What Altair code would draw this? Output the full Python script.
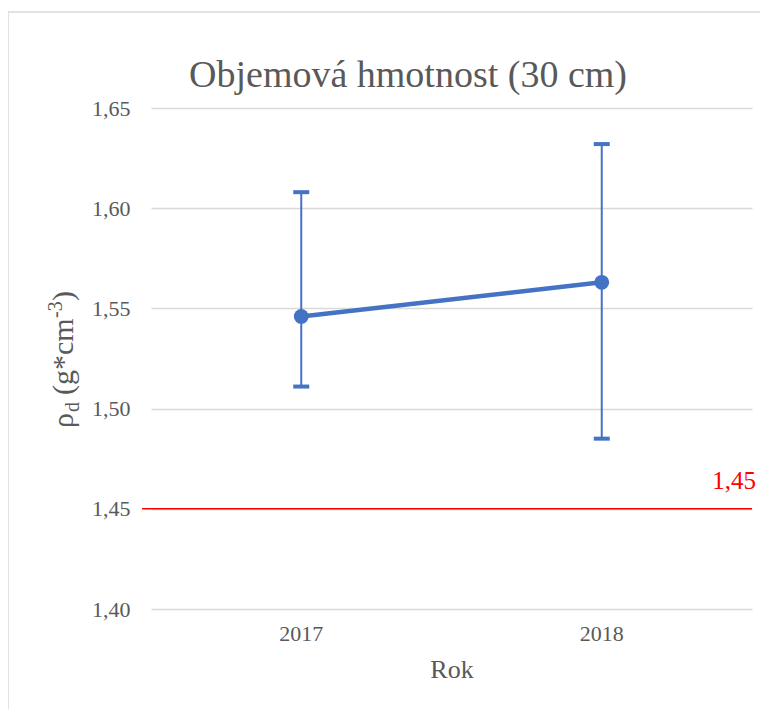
import altair as alt
import pandas as pd

years = ["2017", "2018"]
means = [1.546, 1.563]
lows = [1.511, 1.485]
highs = [1.608, 1.632]
ref_value = 1.45
y_ticks = [1.40, 1.45, 1.50, 1.55, 1.60, 1.65]
title_text = "Objemová hmotnost (30 cm)"

df = pd.DataFrame({"Rok": years, "mean": means, "lo": lows, "hi": highs})
ref_df = pd.DataFrame({"v": [ref_value], "label": ["1,45"]})
one = pd.DataFrame({"a": [0]})

W, H = 601, 501
FONT = "'Liberation Serif', 'Times New Roman', serif"
TXT = "#595959"
BLUE = "#4472C4"

x_enc = alt.X("Rok:N", scale=alt.Scale(paddingInner=0, paddingOuter=0),
              axis=alt.Axis(title="Rok", labelAngle=0, ticks=False, domain=False,
                            labelFontSize=22, titleFontSize=26, labelFont=FONT,
                            titleFont=FONT, labelColor=TXT, titleColor=TXT,
                            titleFontWeight="normal", labelPadding=14, titlePadding=12,
                            grid=False))
y_scale = alt.Scale(domain=[1.40, 1.65], nice=False, zero=False)
y_axis = alt.Axis(title=None, values=y_ticks, ticks=False, domain=False,
                  labelExpr="replace(format(datum.value, '.2f'), '.', ',')",
                  labelFontSize=22, labelFont=FONT, labelColor=TXT, labelPadding=21,
                  grid=True, gridColor="#d9d9d9", gridWidth=1.5)

base = alt.Chart(df)

border = alt.Chart(one).mark_rect(fill=None, stroke="#d9d9d9", strokeWidth=1.5).encode(
    x=alt.value(-143), y=alt.value(-96), x2=alt.value(W + 100), y2=alt.value(H + 200))

bars = base.mark_rule(color=BLUE, strokeWidth=2).encode(
    x=x_enc, y=alt.Y("lo:Q", scale=y_scale, axis=y_axis), y2="hi:Q")
cap_lo = base.mark_tick(color=BLUE, size=16, thickness=4, opacity=1).encode(x="Rok:N", y="lo:Q")
cap_hi = base.mark_tick(color=BLUE, size=16, thickness=4, opacity=1).encode(x="Rok:N", y="hi:Q")
line = base.mark_line(color=BLUE, strokeWidth=4.5).encode(x="Rok:N", y="mean:Q")
pts = base.mark_circle(color=BLUE, size=220, opacity=1).encode(x="Rok:N", y="mean:Q")

ref_rule = alt.Chart(ref_df).mark_rule(color="red", strokeWidth=1.5).encode(
    y="v:Q", x=alt.value(-9), x2=alt.value(W))
ref_text = alt.Chart(ref_df).mark_text(color="red", fontSize=25, font=FONT, align="right",
                                       baseline="alphabetic", dy=-20).encode(
    y="v:Q", x=alt.value(W + 4), text="label:N")

title = alt.Chart(one).mark_text(text=title_text, fontSize=38, font=FONT, color=TXT,
                                 align="center", baseline="alphabetic").encode(
    x=alt.value(257), y=alt.value(-21))

# rotated y-axis title with sub/superscripts
pieces = [
    ("ρ", 30, -78, 320),
    ("d", 20, -72, 304),
    ("(g*cm", 30, -78, 287),
    ("-3", 20, -89, 210),
    (")", 30, -78, 193),
]
ytitle = []
for t, fs, xx, yy in pieces:
    ytitle.append(alt.Chart(one).mark_text(text=t, fontSize=fs, font=FONT, color=TXT,
                                           angle=270, align="left", baseline="alphabetic").encode(
        x=alt.value(xx), y=alt.value(yy)))

chart = alt.layer(border, bars, cap_lo, cap_hi, line, pts, ref_rule, ref_text, title, *ytitle).properties(
    width=W, height=H,
    autosize=alt.AutoSizeParams(type="none"),
    padding={"left": 143, "top": 100, "right": 8, "bottom": 100},
).configure_view(stroke=None)

chart.save("out.html", embed_options={"renderer": "svg", "actions": False})
